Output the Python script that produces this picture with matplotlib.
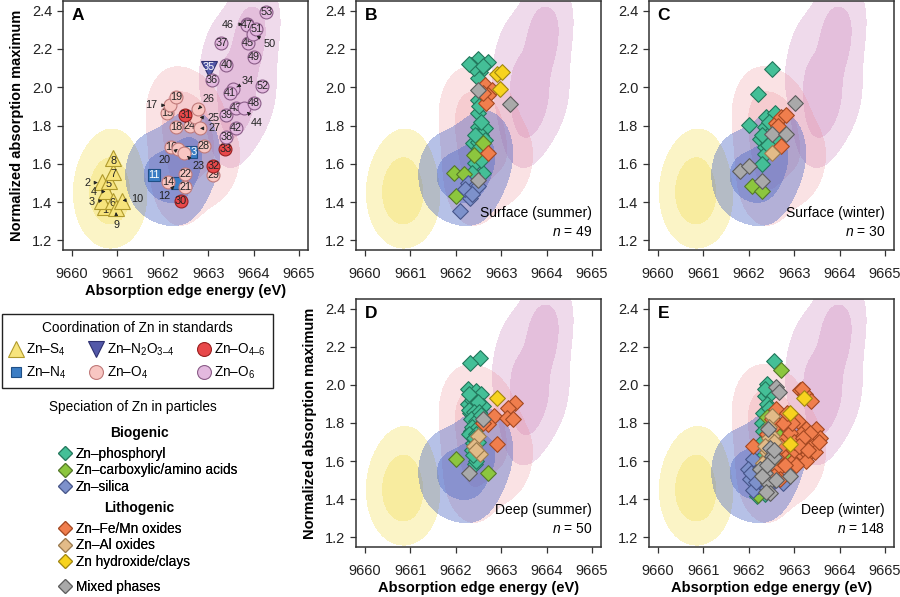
import numpy as np
import matplotlib
matplotlib.use('Agg')
import matplotlib.pyplot as plt
from matplotlib.lines import Line2D

plt.rcParams['font.family'] = ['Liberation Sans', 'DejaVu Sans']
plt.rcParams['mathtext.fontset'] = 'custom'
plt.rcParams['mathtext.rm'] = 'Liberation Sans'
plt.rcParams['mathtext.it'] = 'Liberation Sans:italic'
plt.rcParams['mathtext.bf'] = 'Liberation Sans:bold'

# ---- standards (panel A) ----
std_id = list(range(1, 54))
std_x = [9660.72, 9660.66, 9660.67, 9660.74, 9660.81, 9660.90, 9660.91, 9660.91, 9660.96, 9661.11,
         9661.80, 9662.32, 9662.63,
         9662.11, 9662.10, 9662.19, 9662.15, 9662.30, 9662.30, 9662.33, 9662.50, 9662.50, 9662.47,
         9662.59, 9662.72, 9662.78, 9662.82, 9662.90, 9663.11,
         9662.39, 9662.50, 9663.11, 9663.38,
         9663.55, 9663.01, 9663.08, 9663.29, 9663.40, 9663.40, 9663.40, 9663.47, 9663.61, 9663.61,
         9663.80, 9663.88, 9663.85, 9663.85, 9664.00, 9664.00, 9663.99, 9664.06, 9664.19, 9664.28]
std_y = [1.373, 1.503, 1.408, 1.456, 1.508, 1.408, 1.557, 1.628, 1.370, 1.408,
         1.543, 1.500, 1.664,
         1.505, 1.867, 1.690, 1.906, 1.794, 1.950, 1.678, 1.477, 1.548, 1.656,
         1.797, 1.845, 1.885, 1.785, 1.695, 1.539,
         1.406, 1.855, 1.591, 1.678,
         1.990, 2.097, 2.040, 2.232, 1.742, 1.855, 2.114, 1.970, 1.785, 1.893,
         1.889, 2.232, 2.330, 2.327, 1.915, 2.158, 2.279, 2.305, 2.005, 2.391]
std_type = ['S4'] * 10 + ['N4'] * 3 + ['O4'] * 16 + ['O46'] * 4 + ['O6', 'N2O3'] + ['O6'] * 18

# numbers written beside their marker, with an arrow
callouts = {2: (9660.33, 1.50), 3: (9660.43, 1.401), 4: (9660.47, 1.451), 9: (9660.99, 1.28),
            10: (9661.43, 1.416), 12: (9662.02, 1.43), 17: (9661.75, 1.905), 20: (9662.03, 1.621),
            23: (9662.78, 1.586), 25: (9663.11, 1.837), 26: (9663.00, 1.938), 27: (9663.14, 1.785),
            34: (9663.88, 2.033), 44: (9664.06, 1.815), 46: (9663.44, 2.326), 50: (9664.35, 2.227)}

# ---- particles (panels B-E) ----
b_x = [9662.49, 9662.71, 9662.34, 9662.53, 9662.49, 9662.49, 9662.49, 9662.49, 9662.64, 9662.56,
       9662.38, 9662.49, 9662.64, 9662.45, 9662.42, 9662.60, 9662.40, 9662.60, 9662.52, 9662.55,
       9662.42, 9662.52, 9662.35, 9662.55, 9662.30,
       9662.59, 9662.39, 9661.97, 9662.17, 9662.00,
       9662.27, 9662.38, 9662.31, 9662.49, 9662.09, 9662.20, 9662.35,
       9662.64, 9662.79, 9662.71, 9662.67, 9662.71, 9662.60,
       9662.90, 9663.01, 9662.97,
       9662.49, 9663.19, 9662.49]
b_y = [2.149, 2.132, 2.114, 2.080, 2.050, 1.932, 1.863, 1.794, 1.785, 1.751,
       1.707, 1.716, 1.725, 1.655, 1.603, 1.552, 2.100, 2.110, 1.900, 1.820,
       1.750, 1.680, 1.550, 1.620, 2.120,
       1.711, 1.647, 1.552, 1.548, 1.430,
       1.500, 1.474, 1.422, 1.482, 1.352, 1.470, 1.440,
       2.010, 1.984, 1.958, 1.915, 1.659, 1.970,
       2.071, 2.080, 1.993,
       1.984, 1.912, 1.517]
b_cat = ['P'] * 25 + ['C'] * 5 + ['S'] * 7 + ['F'] * 6 + ['H'] * 3 + ['M'] * 3

c_x = [9662.50, 9662.21, 9662.01, 9662.38, 9662.57, 9662.35, 9662.46, 9662.24, 9662.39, 9662.35,
       9662.35, 9662.30, 9662.57, 9662.45, 9662.30, 9662.42,
       9662.61, 9662.72, 9662.83, 9662.70, 9662.65,
       9662.50,
       9663.01, 9662.50, 9662.82, 9661.80, 9662.01, 9662.30,
       9662.08, 9662.30]
c_y = [2.097, 1.964, 1.803, 1.842, 1.863, 1.794, 1.760, 1.728, 1.725, 1.690,
       1.652, 1.600, 1.730, 1.820, 1.750, 1.700,
       1.815, 1.846, 1.855, 1.693, 1.800,
       1.659,
       1.915, 1.756, 1.756, 1.560, 1.590, 1.508,
       1.486, 1.456]
c_cat = ['P'] * 16 + ['F'] * 5 + ['A'] + ['M'] * 6 + ['C'] * 2

d_x = [9662.53, 9662.31, 9662.27, 9662.45, 9662.56, 9662.38, 9662.27, 9662.42, 9662.59, 9662.31,
       9662.45, 9662.34, 9662.42, 9662.38, 9662.42, 9662.35, 9662.50, 9662.30, 9662.40, 9662.52,
       9662.33, 9662.45, 9662.36, 9662.50, 9662.30, 9662.45, 9662.40, 9662.48, 9662.35, 9662.45,
       9662.38, 9662.28, 9662.55,
       9662.49, 9662.40, 9662.53, 9662.45,
       9662.00, 9662.70,
       9662.60, 9662.29,
       9662.90,
       9663.30, 9663.15, 9662.84, 9662.71, 9663.12, 9663.25, 9662.90, 9662.60]
d_y = [2.142, 2.112, 1.976, 1.967, 1.950, 1.933, 1.898, 1.889, 1.889, 1.854,
       1.845, 1.758, 1.793, 1.697, 1.584, 1.920, 1.910, 1.870, 1.860, 1.860,
       1.820, 1.810, 1.780, 1.780, 1.740, 1.740, 1.720, 1.700, 1.660, 1.600,
       1.630, 1.950, 1.840,
       1.732, 1.680, 1.636, 1.660,
       1.613, 1.540,
       1.823, 1.540,
       1.933,
       1.906, 1.880, 1.837, 1.793, 1.828, 1.820, 1.688, 1.800]
d_cat = ['P'] * 33 + ['A'] * 4 + ['C'] * 2 + ['M'] * 2 + ['H'] + ['F'] * 8

e_x = [9662.55, 9662.39, 9662.35, 9662.46, 9662.32, 9662.17, 9662.30, 9662.28, 9662.35, 9662.30,
       9662.25, 9662.40, 9662.32, 9662.45, 9662.20, 9662.35,
       9662.72, 9662.85, 9662.40, 9662.20, 9662.60,
       9662.10, 9661.99, 9662.17, 9662.02, 9662.21, 9662.76, 9662.10, 9662.30, 9662.05, 9662.25,
       9662.15, 9662.40,
       9663.12, 9663.24, 9663.36, 9662.61, 9662.61, 9663.09, 9663.27, 9663.49, 9663.42, 9663.57,
       9662.79, 9663.12, 9663.20, 9663.09, 9663.31, 9662.98, 9662.10, 9662.72, 9662.65, 9662.68,
       9663.30, 9663.40, 9663.15, 9663.00, 9663.25, 9663.35, 9662.90, 9662.95, 9663.05, 9663.45,
       9662.80, 9662.55, 9662.75, 9663.00, 9663.20, 9663.10, 9662.70, 9662.60, 9663.55, 9663.30,
       9662.85, 9662.50, 9663.17, 9662.40,
       9663.21, 9662.90, 9662.90,
       9662.50, 9662.50, 9662.43, 9662.39, 9662.32, 9662.45, 9662.55, 9662.40, 9662.48, 9662.35,
       9662.45,
       9662.61, 9662.66, 9662.43, 9662.46, 9662.50, 9662.24, 9662.90, 9662.43, 9662.46, 9662.55,
       9662.35, 9662.60, 9662.30, 9662.55, 9662.40, 9662.38]
e_y = [2.124, 2.002, 1.941, 1.950, 1.854, 1.418, 1.800, 1.700, 1.980, 1.620,
       1.450, 1.900, 1.760, 1.880, 1.500, 1.430,
       2.077, 1.640, 1.830, 1.420, 1.750,
       1.610, 1.558, 1.531, 1.505, 1.470, 1.488, 1.450, 1.480, 1.540, 1.560,
       1.490, 1.460,
       1.975, 1.950, 1.915, 1.871, 1.793, 1.810, 1.767, 1.767, 1.714, 1.723,
       1.714, 1.706, 1.662, 1.627, 1.636, 1.601, 1.680, 1.645, 1.558, 1.505,
       1.700, 1.680, 1.740, 1.660, 1.600, 1.750, 1.750, 1.800, 1.580, 1.650,
       1.580, 1.520, 1.800, 1.700, 1.720, 1.680, 1.680, 1.620, 1.700, 1.660,
       1.850, 1.820, 1.980, 1.740,
       1.932, 1.854, 1.688,
       1.837, 1.732, 1.697, 1.619, 1.592, 1.720, 1.700, 1.650, 1.600, 1.680,
       1.780,
       1.990, 1.965, 1.767, 1.671, 1.627, 1.558, 1.523, 1.488, 1.435, 1.620,
       1.540, 1.500, 1.520, 1.660, 1.580, 1.440]
e_cat = ['P'] * 16 + ['C'] * 5 + ['S'] * 12 + ['F'] * 44 + ['H'] * 3 + ['A'] * 11 + ['M'] * 16

# ---- styles ----
std_style = {'S4': ('^', 11, '#f7e47c', '#b09a2c', '#222222'),
             'N4': ('s', 8.5, '#3b7dc4', '#1f4f86', 'white'),
             'N2O3': ('v', 11.5, '#5358a8', '#2e3070', 'white'),
             'O46': ('o', 9.3, '#e8484a', '#9a2020', '#222222'),
             'O4': ('o', 9.3, '#f8c6c2', '#c07a7a', '#222222'),
             'O6': ('o', 9.3, '#e3b9df', '#8a5c88', '#222222')}
std_legend = [('S4', 'Zn–S$_4$'), ('N4', 'Zn–N$_4$'), ('N2O3', 'Zn–N$_2$O$_{3–4}$'),
              ('O4', 'Zn–O$_4$'), ('O46', 'Zn–O$_{4–6}$'), ('O6', 'Zn–O$_6$')]
std_leg_size = {'S4': 12, 'N4': 7.5, 'N2O3': 12, 'O4': 10, 'O46': 10, 'O6': 10}

sp_codes = ['P', 'C', 'S', 'F', 'A', 'H', 'M']
sp_names = {'P': 'Zn–phosphoryl', 'C': 'Zn–carboxylic/amino acids', 'S': 'Zn–silica',
            'F': 'Zn–Fe/Mn oxides', 'A': 'Zn–Al oxides', 'H': 'Zn hydroxide/clays', 'M': 'Mixed phases'}
sp_fill = {'P': '#44bf97', 'C': '#8cc63e', 'S': '#7d91cb', 'F': '#f07e4d',
           'A': '#e2bb88', 'H': '#f7d31e', 'M': '#a9a9a9'}
sp_edge = {'P': '#23775c', 'C': '#55782a', 'S': '#47568a', 'F': '#a34822',
           'A': '#9a7a4e', 'H': '#a08612', 'M': '#5c5c5c'}

# density regions of the standards (groups, bandwidths, colours)
region_groups = [(['S4'], 0.35, 0.12, '#f3dc45', 0.30),
                 (['O6'], 0.28, 0.13, '#c779b6', 0.27),
                 (['O4', 'O46'], 0.33, 0.12, '#ee8c96', 0.25),
                 (['N4'], 0.35, 0.12, '#4a66c4', 0.40)]
region_probs = (0.9, 0.5)

XLIM = (9659.8, 9665.2)
YLIM = (1.15, 2.45)
gx, gy = np.meshgrid(np.linspace(9657.5, 9667.5, 400), np.linspace(0.6, 3.0, 400))
sx = np.array(std_x)
sy = np.array(std_y)
st = np.array(std_type)
regions = []
for types, hx, hy, col, al in region_groups:
    sel = np.isin(st, types)
    z = np.zeros_like(gx)
    for a, b in zip(sx[sel], sy[sel]):
        z += np.exp(-0.5 * (((gx - a) / hx) ** 2 + ((gy - b) / hy) ** 2))
    zs = np.sort(z.ravel())[::-1]
    cum = np.cumsum(zs) / zs.sum()
    levs = [zs[np.searchsorted(cum, p)] for p in region_probs]
    regions.append((z, levs, col, al))


def draw_regions(ax):
    for z, levs, col, al in regions:
        for lev in levs:
            ax.contourf(gx, gy, z, levels=[lev, z.max() * 1.01], colors=[col], alpha=al, zorder=1)


def style_axes(ax, letter, xlabel=False, ylabel=False):
    ax.set_xlim(*XLIM)
    ax.set_ylim(*YLIM)
    ax.set_xticks(range(9660, 9666))
    ax.set_xticklabels([str(v) for v in range(9660, 9666)])
    ax.set_yticks([1.2, 1.4, 1.6, 1.8, 2.0, 2.2, 2.4])
    ax.set_yticklabels(['1.2', '1.4', '1.6', '1.8', '2.0', '2.2', '2.4'])
    ax.tick_params(axis='both', direction='out', length=4.5, width=0.9, color='#333333',
                   labelsize=10.5, labelcolor='#222222')
    ax.tick_params(axis='x', pad=8)
    ax.tick_params(axis='y', pad=3)
    for s in ax.spines.values():
        s.set_color('#333333')
        s.set_linewidth(1.1)
    ax.text(0.035, 0.94, letter, transform=ax.transAxes, fontsize=12.5, fontweight='bold',
            ha='left', va='center', zorder=10)
    if xlabel:
        ax.set_xlabel('Absorption edge energy (eV)', fontsize=10.5, fontweight='bold', labelpad=2)
    if ylabel:
        ax.set_ylabel('Normalized absorption maximum', fontsize=10.5, fontweight='bold', labelpad=6)


fig = plt.figure(figsize=(9, 5.97), dpi=100)
W, H = 900, 597
aw, ah = 245 / W, 249 / H

# ---- panel A ----
axA = fig.add_axes([63 / W, 1 - 250 / H, aw, ah])
draw_regions(axA)
for i, x, y, t in zip(std_id, std_x, std_y, std_type):
    mk, ms, fc, ec, tc = std_style[t]
    zo = 3 + i * 0.01
    axA.plot([x], [y], marker=mk, ms=ms, mfc=fc, mec=ec, mew=0.8, ls='none', zorder=zo)
    if i in callouts:
        axA.annotate(str(i), xy=(x, y), xytext=callouts[i], fontsize=7.8, color='#222222',
                     ha='center', va='center', zorder=6,
                     arrowprops=dict(arrowstyle='-|>', color='#222222', lw=0.6,
                                     mutation_scale=5, shrinkA=2, shrinkB=3))
    else:
        dy = -0.012 if t == 'S4' else (0.01 if t == 'N2O3' else 0)
        axA.text(x, y + dy, str(i), fontsize=7.8, color=tc, ha='center', va='center',
                 zorder=zo + 0.005)
style_axes(axA, 'A', xlabel=True, ylabel=True)

# ---- panels B-E ----
panels = [('B', 'Surface (summer)', 49, b_x, b_y, b_cat, 356, 1, False, False),
          ('C', 'Surface (winter)', 30, c_x, c_y, c_cat, 649, 1, False, False),
          ('D', 'Deep (summer)', 50, d_x, d_y, d_cat, 356, 299, True, True),
          ('E', 'Deep (winter)', 148, e_x, e_y, e_cat, 649, 299, True, False)]
for letter, name, n, xs, ys, cats, left, top, xl, yl in panels:
    h = 249 if top == 1 else 248
    ax = fig.add_axes([left / W, 1 - (top + h) / H, aw, h / H])
    draw_regions(ax)
    xs = np.array(xs)
    ys = np.array(ys)
    cats = np.array(cats)
    for k, code in enumerate(sp_codes):
        m = cats == code
        ax.scatter(xs[m], ys[m], marker='D', s=64, c=sp_fill[code], edgecolors=sp_edge[code],
                   linewidths=0.8, zorder=3 + k * 0.1)
    ax.text(0.963, 0.148, name, transform=ax.transAxes, fontsize=10, ha='right', va='center',
            zorder=10)
    ax.text(0.963, 0.071, f'$n$ = {n}', transform=ax.transAxes, fontsize=10, ha='right',
            va='center', zorder=10)
    style_axes(ax, letter, xlabel=xl, ylabel=yl)

# ---- legend: standards ----
h_std = [Line2D([], [], marker=std_style[t][0], ms=std_leg_size[t], mfc=std_style[t][2],
                mec=std_style[t][3], mew=0.8, ls='none') for t, _ in std_legend]
leg1 = fig.legend(h_std, [lab for _, lab in std_legend], ncol=3, mode='expand',
                  loc='upper left', bbox_to_anchor=(2 / W, 1 - 387 / H, 271 / W, 73 / H),
                  title='Coordination of Zn in standards', title_fontsize=9.8, fontsize=9.8,
                  frameon=True, fancybox=False, edgecolor='#222222', framealpha=1,
                  handlelength=1.0, handletextpad=0.25, borderpad=0.5, labelspacing=0.5,
                  borderaxespad=0)
leg1.get_frame().set_linewidth(1.0)

# ---- legend: particles ----
fig.text(133 / W, 1 - 407 / H, 'Speciation of Zn in particles', fontsize=9.8, ha='center', va='center')
groups = [('Biogenic', 433, ['P', 'C', 'S'], 455),
          ('Lithogenic', 508, ['F', 'A', 'H'], 530),
          (None, None, ['M'], 588)]
for head, hy, codes, first in groups:
    if head:
        fig.text(139 / W, 1 - hy / H, head, fontsize=10, fontweight='bold', ha='center', va='center')
    hs = [Line2D([], [], marker='D', ms=7.5, mfc=sp_fill[c], mec=sp_edge[c], mew=0.8, ls='none')
          for c in codes]
    lg = fig.legend(hs, [sp_names[c] for c in codes], loc='upper left',
                    bbox_to_anchor=(58 / W, 1 - (first - 8) / H), frameon=False, fontsize=9.8,
                    handlelength=1.0, handletextpad=0.3, borderpad=0, labelspacing=0.18,
                    borderaxespad=0)
    fig.add_artist(lg)

fig.savefig('out.png', dpi=100)
